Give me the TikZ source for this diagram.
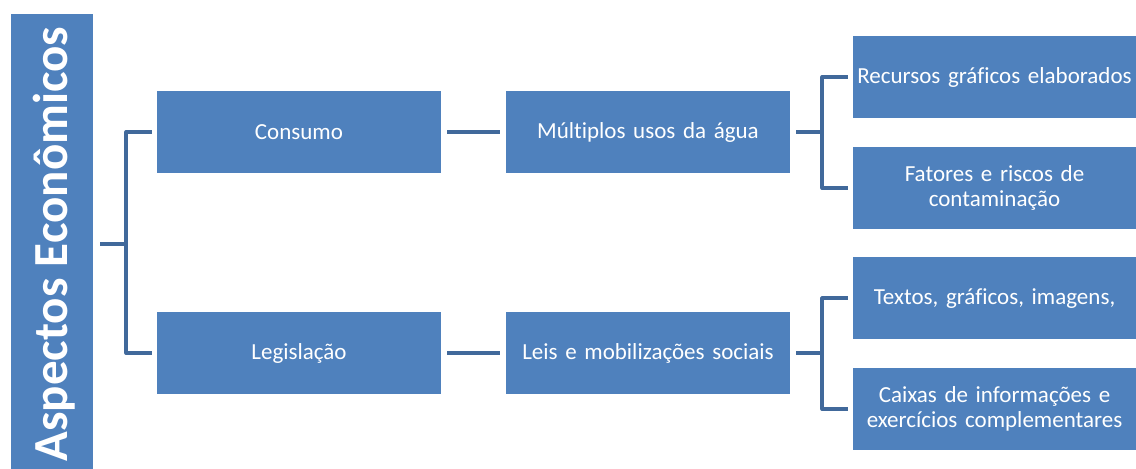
\documentclass[tikz,border=0pt]{standalone}
\usepackage{fontspec}
\setmainfont[Ligatures=NoCommon]{Carlito}
\usepackage{tikz}
\definecolor{boxblue}{RGB}{79,129,189}
\definecolor{linkblue}{RGB}{65,105,155}

\begin{document}
\begin{tikzpicture}[x=0.5pt,y=-0.5pt,
  box/.style={fill=boxblue, text=white, minimum width=142pt, minimum height=41pt,
    text width=140pt, inner sep=0.5pt, align=center,
    font=\fontsize{11.5}{12.8}\selectfont},
  link/.style={linkblue, line width=2pt, line join=round}]

\useasboundingbox (0,0) rectangle (1136,469);

\node[fill=boxblue, text=white, rotate=90, minimum width=230pt, minimum height=41pt,
  inner sep=0pt, text height=15.8pt, text depth=0pt,
  font=\fontsize{24.5}{28}\bfseries] (asp) at (52,244) {Aspectos Econômicos};

\node[box] (cons) at (299,132) {Consumo};
\node[box] (legi) at (299,353) {Legislação};
\node[box] (mult) at (648,132) {Múltiplos usos da água};
\node[box] (leis) at (648,353) {Leis e mobilizações sociais};

\node[box, minimum width=141.5pt] (rec) at (994.5,77) {Recursos gráficos elaborados};
\node[box, minimum width=141.5pt] (fat) at (994.5,188) {Fatores e riscos de\\contaminação};
\node[box, minimum width=141.5pt] (tex) at (994.5,298.5) {Textos, gráficos, imagens,};
\node[box, minimum width=141.5pt] (cai) at (994.5,409) {Caixas de informações e\\exercícios complementares};

\draw[link] ([xshift=3.5pt]asp.south) -- ++(26,0) coordinate (j1);
\draw[link] ([xshift=-2.5pt]cons.west) -| (j1) |- ([xshift=-2.5pt]legi.west);

\draw[link] ([xshift=3pt]cons.east) -- ([xshift=-3pt]mult.west);
\draw[link] ([xshift=3pt]legi.east) -- ([xshift=-3pt]leis.west);

\draw[link] ([xshift=3pt]mult.east) -- ++(26,0) coordinate (j2);
\draw[link] ([xshift=-2.5pt]rec.west) -| (j2) |- ([xshift=-2.5pt]fat.west);

\draw[link] ([xshift=3pt]leis.east) -- ++(26,0) coordinate (j3);
\draw[link] ([xshift=-2.5pt]tex.west) -| (j3) |- ([xshift=-2.5pt]cai.west);
\end{tikzpicture}
\end{document}
